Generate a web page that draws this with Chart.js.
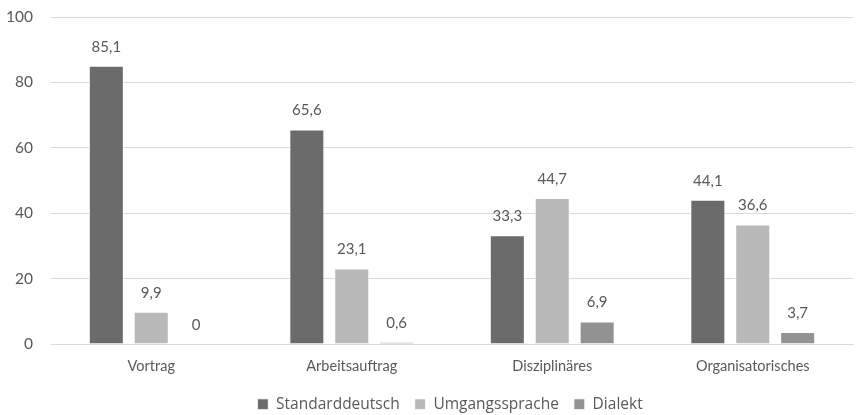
<!DOCTYPE html>
<html>
<head>
<meta charset="utf-8">
<script src="https://cdn.jsdelivr.net/npm/chart.js@4/dist/chart.umd.min.js"></script>
<style>
    html, body { margin: 0; padding: 0; background: #fff; }
    #wrap { width: 857px; height: 415px; position: relative; }
</style>
</head>
<body>
<div id="wrap"><canvas id="chart"></canvas></div>
<script>
const categories = ['Vortrag', 'Arbeitsauftrag', 'Disziplinäres', 'Organisatorisches'];
const standarddeutsch = [85.1, 65.6, 33.3, 44.1];
const umgangssprache = [9.9, 23.1, 44.7, 36.6];
const dialekt = [0, 0.6, 6.9, 3.7];
const yTicks = [0, 20, 40, 60, 80, 100];

const textColor = '#595959';
const fontFamily = 'Lato, "Open Sans", sans-serif';

// draws the value above each bar, German decimal comma
const valueLabels = {
    id: 'valueLabels',
    afterDatasetsDraw(chart) {
        const ctx = chart.ctx;
        ctx.save();
        ctx.font = '15px ' + fontFamily;
        ctx.fillStyle = textColor;
        ctx.textAlign = 'center';
        ctx.textBaseline = 'middle';
        chart.data.datasets.forEach((ds, i) => {
            chart.getDatasetMeta(i).data.forEach((bar, j) => {
                const txt = String(ds.data[j]).replace('.', ',');
                ctx.fillText(txt, bar.x, bar.y - 19);
            });
        });
        ctx.restore();
    }
};

// center the legend under the plot area instead of the whole canvas
const legendShift = {
    id: 'legendShift',
    afterLayout(chart) {
        const area = chart.chartArea;
        const dx = (area.left + area.right) / 2 - chart.width / 2;
        chart.legend.left += dx;
        chart.legend.right += dx;
    }
};

new Chart(document.getElementById('chart').getContext('2d'), {
    type: 'bar',
    data: {
        labels: categories,
        datasets: [
            { label: 'Standarddeutsch', data: standarddeutsch, backgroundColor: '#6b6b6b' },
            { label: 'Umgangssprache', data: umgangssprache, backgroundColor: '#b8b9b8' },
            { label: 'Dialekt', data: dialekt, backgroundColor: '#929292' }
        ].map(d => Object.assign(d, {
            borderColor: '#ffffff',
            borderWidth: 1,
            categoryPercentage: 0.672,
            barPercentage: 0.78
        }))
    },
    options: {
        responsive: true,
        maintainAspectRatio: false,
        animation: false,
        layout: { padding: { top: 17, right: 4, left: 0, bottom: -7 } },
        plugins: {
            legend: {
                position: 'bottom',
                labels: {
                    boxWidth: 11,
                    boxHeight: 11,
                    padding: 15,
                    color: textColor,
                    font: { size: 15.5, family: '"Open Sans", sans-serif' }
                }
            },
            tooltip: { enabled: false }
        },
        scales: {
            x: {
                grid: { display: false },
                border: { color: '#d9d9d9' },
                ticks: { color: textColor, font: { size: 14.5, family: fontFamily }, padding: 6 }
            },
            y: {
                min: 0,
                max: 100,
                afterBuildTicks(axis) {
                    axis.ticks = yTicks.map(v => ({ value: v }));
                },
                afterFit(axis) {
                    axis.width = 51;
                    axis.paddingTop = 0;
                    axis.paddingBottom = 0;
                },
                grid: { color: '#d9d9d9', drawTicks: false },
                border: { display: false },
                ticks: { color: textColor, font: { size: 15.5, family: fontFamily }, padding: 18 }
            }
        }
    },
    plugins: [valueLabels, legendShift]
});
</script>
</body>
</html>
